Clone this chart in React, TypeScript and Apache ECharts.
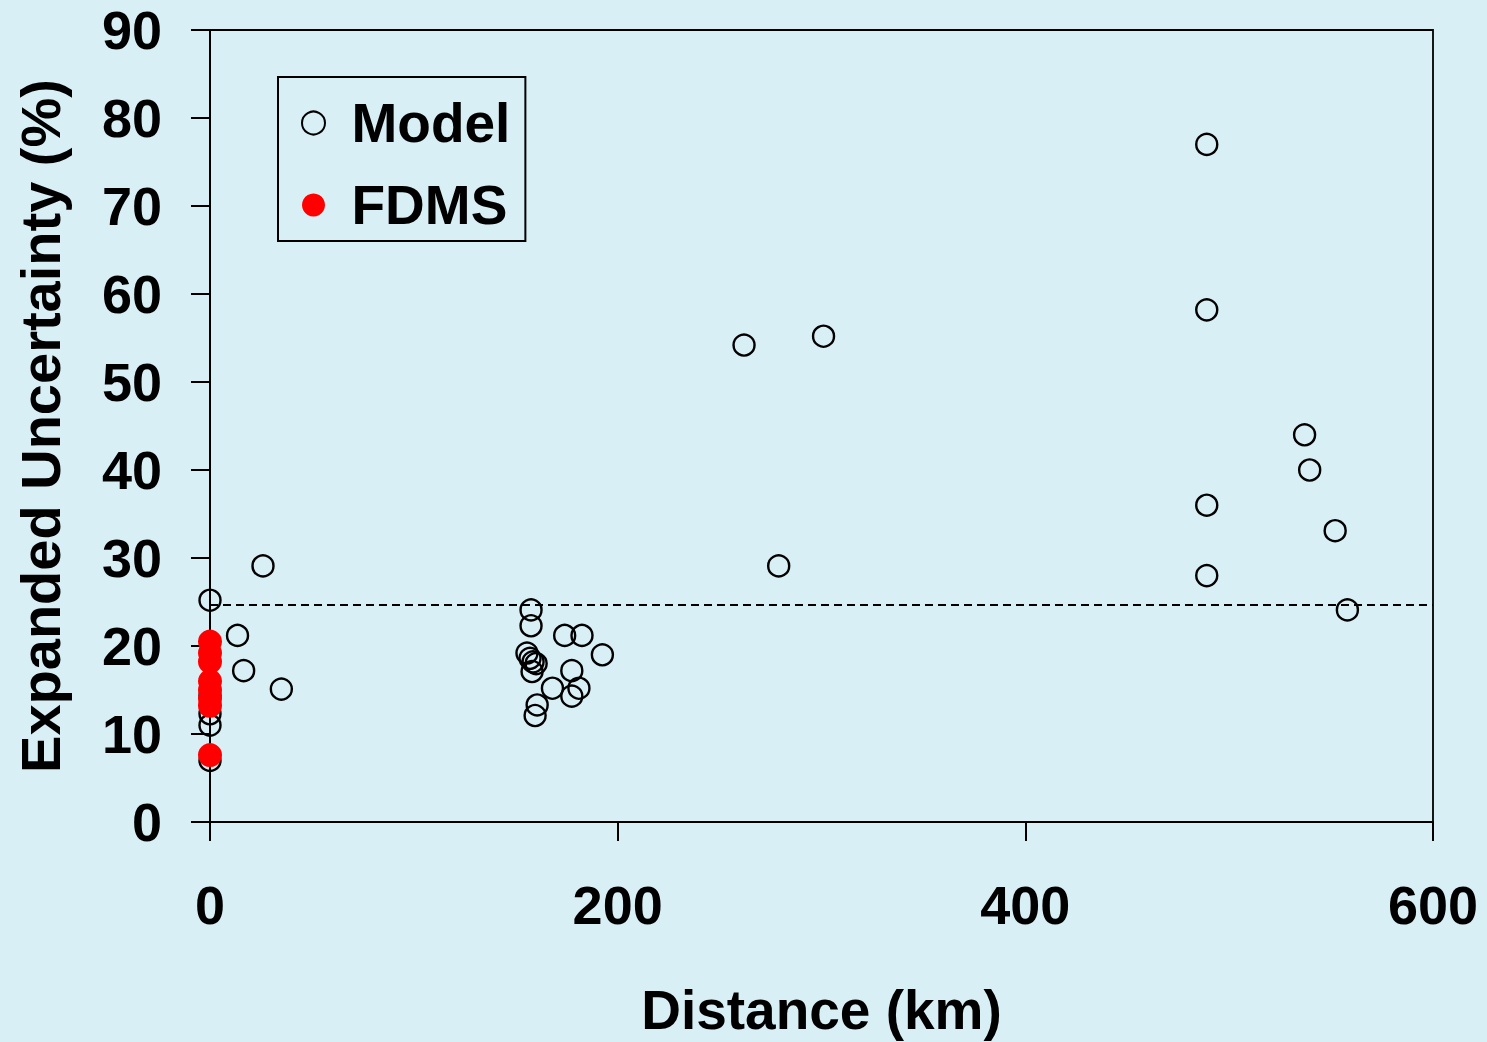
import React, { useEffect, useRef } from "react";
import * as echarts from "echarts";

const modelX = [0, 0, 0, 0, 0, 13.5, 16.5, 26, 35, 155.5, 157, 158.5, 160, 158, 157.5, 157.5, 174, 182.5, 192.5, 177.5, 168, 181, 177.5, 160.5, 159.5, 262, 301, 279, 489, 489, 489, 489, 537, 539.5, 552, 558];
const modelY = [25.2, 14.4, 12.3, 11.0, 7.0, 21.2, 17.2, 29.1, 15.1, 19.2, 18.6, 18.2, 18.0, 17.1, 24.1, 22.3, 21.2, 21.2, 19.0, 17.2, 15.2, 15.2, 14.3, 13.3, 12.1, 54.2, 55.2, 29.1, 77.0, 58.2, 36.0, 28.0, 44.0, 40.0, 33.1, 24.1];
const fdmsX = [0, 0, 0, 0, 0, 0, 0, 0];
const fdmsY = [20.5, 19.2, 18.2, 16.0, 15.0, 14.0, 13.2, 7.6];
const limitValue = 24.7;
const xTicks = { min: 0, max: 600, interval: 200 };
const yTicks = { min: 0, max: 90, interval: 10 };

const FONT = '"Liberation Sans", Arial, sans-serif';
const BG = "#d7eff5";

export default function App() {
  const ref = useRef<HTMLDivElement>(null);
  useEffect(() => {
    document.body.style.margin = "0";
    document.body.style.background = BG;
    const chart = echarts.init(ref.current!, null, { renderer: "svg" });
    const modelData = modelX.map((x, i) => [x, modelY[i]]);
    const fdmsData = fdmsX.map((x, i) => [x, fdmsY[i]]);
    chart.setOption({
      animation: false,
      backgroundColor: BG,
      textStyle: { fontFamily: FONT },
      grid: {
        left: 210,
        right: 54,
        top: 30,
        bottom: 218,
        show: true,
        borderColor: "#000",
        borderWidth: 1.8,
        backgroundColor: "transparent",
      },
      legend: {
        orient: "vertical",
        left: 278,
        top: 77,
        itemWidth: 66,
        itemHeight: 23,
        itemGap: 26,
        padding: [18, 15, 8, 23],
        borderColor: "#000",
        borderWidth: 2,
        backgroundColor: "transparent",
        textStyle: { fontSize: 55, fontWeight: "bold", color: "#000", fontFamily: FONT, lineHeight: 56 },
        data: ["Model", "FDMS"],
      },
      xAxis: {
        type: "value",
        min: xTicks.min,
        max: xTicks.max,
        interval: xTicks.interval,
        name: "Distance (km)",
        nameLocation: "middle",
        nameGap: 160,
        nameTextStyle: { fontSize: 55, fontWeight: "bold", color: "#000", fontFamily: FONT },
        axisLine: { lineStyle: { color: "#000", width: 2 } },
        axisTick: { show: true, inside: false, length: 19, lineStyle: { color: "#000", width: 2 } },
        axisLabel: { fontSize: 54, fontWeight: "bold", color: "#000", margin: 56, fontFamily: FONT },
        splitLine: { show: false },
      },
      yAxis: {
        type: "value",
        min: yTicks.min,
        max: yTicks.max,
        interval: yTicks.interval,
        name: "Expanded Uncertainty (%)",
        nameLocation: "middle",
        nameGap: 142,
        nameTextStyle: { fontSize: 56, fontWeight: "bold", color: "#000", fontFamily: FONT },
        axisLine: { lineStyle: { color: "#000", width: 2 } },
        axisTick: { show: true, inside: false, length: 19, lineStyle: { color: "#000", width: 2 } },
        axisLabel: { fontSize: 54, fontWeight: "bold", color: "#000", margin: 48, fontFamily: FONT },
        splitLine: { show: false },
      },
      series: [
        {
          name: "Model",
          type: "scatter",
          symbol: "circle",
          symbolSize: 21,
          data: modelData,
          itemStyle: { color: "rgba(0,0,0,0)", borderColor: "#000", borderWidth: 2.4, opacity: 1 },
          markLine: {
            silent: true,
            symbol: ["none", "none"],
            label: { show: false },
            lineStyle: { color: "#000", width: 1.8, type: [8, 5] },
            data: [{ yAxis: limitValue }],
          },
        },
        {
          name: "FDMS",
          type: "scatter",
          symbol: "circle",
          symbolSize: 24,
          data: fdmsData,
          itemStyle: { color: "#ff0000", borderWidth: 0, opacity: 1 },
        },
      ],
    });
    return () => chart.dispose();
  }, []);
  return <div ref={ref} style={{ width: 1487, height: 1042 }} />;
}
